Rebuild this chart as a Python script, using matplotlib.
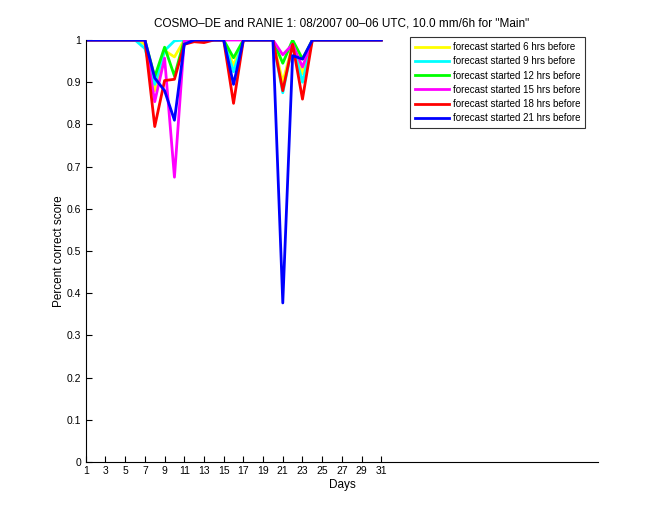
import matplotlib
matplotlib.use("Agg")
import matplotlib.pyplot as plt
import numpy as np

plt.rcParams["font.family"] = ["Liberation Sans", "DejaVu Sans"]

days = np.arange(1, 32)

# values that differ from 1.0, keyed by day
dips = {
    "forecast started 6 hrs before":  {7: 0.99, 8: 0.88, 9: 0.975, 10: 0.96, 16: 0.94, 21: 0.90, 22: 0.99, 23: 0.92},
    "forecast started 9 hrs before":  {7: 0.98, 8: 0.895, 9: 0.975, 10: 0.998, 16: 0.925, 21: 0.875, 22: 0.99, 23: 0.90},
    "forecast started 12 hrs before": {8: 0.913, 9: 0.983, 10: 0.915, 16: 0.958, 21: 0.945, 22: 1.0, 23: 0.955},
    "forecast started 15 hrs before": {8: 0.854, 9: 0.957, 10: 0.675, 21: 0.965, 22: 0.99, 23: 0.936},
    "forecast started 18 hrs before": {8: 0.795, 9: 0.904, 10: 0.907, 11: 0.99, 12: 0.996, 13: 0.994,
                                       16: 0.85, 21: 0.88, 22: 0.99, 23: 0.86},
    "forecast started 21 hrs before": {8: 0.91, 9: 0.88, 10: 0.81, 11: 0.99, 16: 0.895,
                                       21: 0.377, 22: 0.963, 23: 0.955},
}
colors = ["#ffff00", "#00ffff", "#00ff00", "#ff00ff", "#ff0000", "#0000ff"]

fig = plt.figure(figsize=(6.6, 5.2), dpi=100)
ax = fig.add_axes([0.13, 0.1115, 0.776, 0.8115])

for (label, d), c in zip(dips.items(), colors):
    vals = np.ones(len(days))
    for k, v in d.items():
        vals[k - 1] = v
    ax.plot(days, vals, color=c, lw=2, label=label)

ax.set_xlim(1, 53)
ax.set_ylim(0, 1)
ax.set_xticks(np.arange(1, 32, 2))
ax.set_yticks(np.arange(0, 1.01, 0.1))
ax.set_yticklabels(["0", "0.1", "0.2", "0.3", "0.4", "0.5", "0.6", "0.7", "0.8", "0.9", "1"])
ax.spines["top"].set_visible(False)
ax.spines["right"].set_visible(False)
ax.tick_params(direction="in", labelsize=7.5, length=4, width=0.8)
ax.tick_params(axis="x", pad=3)

ax.set_title('COSMO\u2013DE and RANIE 1: 08/2007 00\u201306 UTC, 10.0 mm/6h for "Main"', fontsize=8.5, pad=10)
ax.set_xlabel("Days", fontsize=8.5, labelpad=2)
ax.set_ylabel("Percent correct score", fontsize=8.5, labelpad=1)

leg = ax.legend(loc="upper right", bbox_to_anchor=(0.975, 1.007), fontsize=7, frameon=True,
                fancybox=False, edgecolor="black", handlelength=3.5, handletextpad=0.4,
                labelspacing=0.44, borderpad=0.5, borderaxespad=0)
leg.get_frame().set_linewidth(0.8)

fig.savefig("out.png", dpi=100)
